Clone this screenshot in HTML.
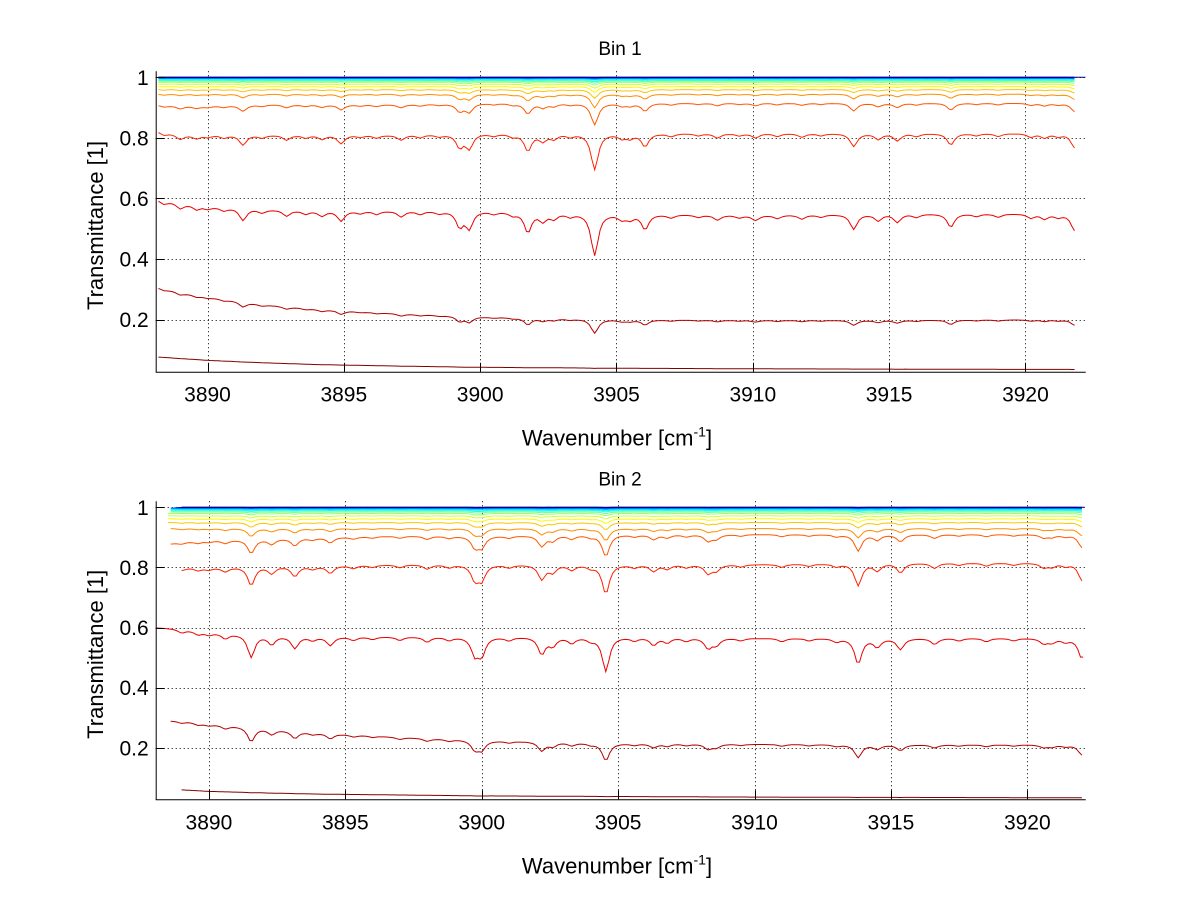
<!DOCTYPE html>
<html><head><meta charset="utf-8">
<style>
html,body{margin:0;padding:0;background:#fff;}
svg{display:block;font-family:"Liberation Sans",Arial,sans-serif;}
</style></head>
<body>
<svg id="chart" width="1200" height="901" viewBox="0 0 1200 901" xmlns="http://www.w3.org/2000/svg">
<rect x="0" y="0" width="1200" height="901" fill="#fff"/>
</svg>
<script>
// ---------- data ----------
const xTicks = [3890, 3895, 3900, 3905, 3910, 3915, 3920];
const yTicks = [0.2, 0.4, 0.6, 0.8, 1];
const yTickLabels = ["0.2", "0.4", "0.6", "0.8", "1"];
const panelTitles = ["Bin 1", "Bin 2"];
const knots = [3888, 3889, 3890, 3892, 3894, 3897, 3900, 3905, 3910, 3915, 3920, 3922.5];

// absorption dips: [wavenumber, fractional depth]
const dips1 = [[3888.4,.02],[3889.0,.03],[3889.6,.025],[3890.0,.015],[3890.6,.02],[3891.3,.07],[3892.0,.02],[3892.9,.035],[3893.6,.02],[3894.2,.03],[3894.9,.06],[3895.6,.015],[3896.2,.02],[3897.1,.035],[3897.8,.02],[3898.5,.015],[3899.25,.09],[3899.6,.1],[3900.5,.015],[3901.2,.02],[3901.75,.12],[3902.3,.05],[3902.7,.035],[3903.3,.02],[3904.2,.25],[3905.2,.03],[3905.5,.03],[3906.05,.09],[3907.0,.02],[3908.0,.015],[3908.7,.03],[3909.5,.015],[3910.1,.03],[3910.9,.02],[3911.8,.025],[3912.5,.015],[3913.7,.09],[3914.6,.04],[3915.3,.05],[3916.0,.02],[3917.26,.08],[3918.2,.015],[3919.0,.02],[3920.2,.025],[3920.7,.03],[3921.2,.02],[3921.8,.1]];
const dips2 = [[3889.0,.02],[3889.6,.02],[3890.0,.015],[3890.6,.03],[3891.55,.13],[3892.3,.05],[3893.15,.07],[3893.8,.02],[3894.45,.05],[3895.3,.02],[3896.0,.015],[3897.0,.02],[3898.0,.03],[3898.8,.02],[3899.75,.1],[3900.0,.1],[3901.0,.02],[3902.2,.1],[3902.6,.05],[3903.3,.035],[3904.0,.02],[3904.55,.2],[3905.6,.02],[3906.3,.045],[3906.8,.03],[3907.5,.02],[3908.3,.06],[3908.6,.04],[3909.5,.015],[3911.0,.02],[3912.0,.015],[3913.0,.02],[3913.8,.15],[3914.5,.05],[3915.35,.065],[3916.6,.035],[3917.5,.015],[3918.5,.02],[3919.5,.015],[3920.6,.03],[3920.9,.025],[3921.4,.02],[3922.0,.12]];

// baselines of the five lowest series at the knots
const base1 = [
 [0.078,0.072,0.066,0.058,0.052,0.047,0.043,0.040,0.038,0.037,0.036,0.036],
 [0.31,0.29,0.275,0.25,0.235,0.22,0.21,0.20,0.198,0.198,0.2,0.2],
 [0.60,0.585,0.575,0.565,0.56,0.56,0.56,0.55,0.545,0.55,0.55,0.55],
 [0.825,0.81,0.81,0.81,0.81,0.81,0.815,0.815,0.815,0.815,0.815,0.815],
 [0.91,0.905,0.905,0.91,0.91,0.91,0.915,0.915,0.915,0.915,0.915,0.915]];
const base2 = [
 [0.062,0.06,0.055,0.05,0.046,0.043,0.04,0.038,0.036,0.035,0.034,0.034],
 [0.29,0.29,0.28,0.265,0.25,0.235,0.225,0.215,0.212,0.21,0.21,0.21],
 [0.60,0.595,0.585,0.575,0.57,0.57,0.57,0.57,0.565,0.565,0.565,0.565],
 [0.80,0.80,0.80,0.805,0.805,0.81,0.81,0.81,0.81,0.815,0.815,0.815],
 [0.87,0.885,0.89,0.895,0.9,0.905,0.905,0.91,0.91,0.91,0.91,0.91]];
// flat levels of the upper series
const levels1 = [0.945,0.96,0.97,0.978,0.984,0.988,0.991,0.994,0.996,0.997,0.998,0.999,0.9995,1.0,1.0];
const levels2 = [0.93,0.95,0.962,0.972,0.98,0.985,0.989,0.992,0.995,0.997,0.998,0.999,0.9995,1.0,1.0];
// dip strength per series (all 20)
const depthScale1 = [0.1,0.9,1.0,0.58,0.31,0.19,0.12,0.08,0.055,0.04,0.03,0.022,0.016,0.012,0.008,0.006,0.004,0.003,0.002,0.001];
const depthScale2 = [0.1,1.35,1.0,0.6,0.4,0.22,0.13,0.08,0.055,0.04,0.03,0.022,0.016,0.012,0.008,0.006,0.004,0.003,0.002,0.001];
// x extent of each series
const start1 = [3888.2,3888.2,3888.2,3888.2,3888.2,3888.2,3888.2,3888.2,3888.2,3888.2,3888.2,3888.2,3888.2,3888.2,3888.2,3888.2,3888.2,3888.2,3888.2,3888.2];
const end1 = [3921.85,3921.85,3921.85,3921.85,3921.85,3921.85,3921.85,3921.85,3921.85,3921.85,3921.85,3921.85,3921.85,3921.85,3921.85,3921.85,3921.85,3921.85,3921.85,3922.2];
const start2 = [3889.0,3888.6,3888.05,3889.0,3888.6,3888.6,3888.5,3888.5,3888.5,3888.5,3888.6,3888.6,3888.6,3888.6,3888.6,3888.7,3888.8,3888.9,3889.0,3889.0];
const end2 = [3922.0,3922.0,3922.1,3922.0,3922.0,3922.0,3922.0,3922.0,3922.0,3922.0,3922.0,3922.0,3922.0,3922.0,3922.0,3922.0,3922.0,3922.0,3922.0,3922.1];

// ---------- layout ----------
const NS = "http://www.w3.org/2000/svg";
const svg = document.getElementById('chart');
const panels = [
 {left:155.7,right:1085.7,top:71.2,bottom:371.7,x0:3888.10,x1:3922.21,y0:0.0284,y1:1.02,dips:dips1,base:base1,levels:levels1,scale:depthScale1,start:start1,end:end1},
 {left:155.7,right:1085.7,top:501.3,bottom:799.3,x0:3888.05,x1:3922.14,y0:0.0286,y1:1.02,dips:dips2,base:base2,levels:levels2,scale:depthScale2,start:start2,end:end2}
];
function mk(tag, attrs, parent){const e=document.createElementNS(NS,tag);for(const k in attrs)e.setAttribute(k,attrs[k]);(parent||svg).appendChild(e);return e;}
function jet(t){const c=v=>Math.max(0,Math.min(1,v));const r=c(1.5-Math.abs(4*t-3)),g=c(1.5-Math.abs(4*t-2)),b=c(1.5-Math.abs(4*t-1));return `rgb(${Math.round(r*255)},${Math.round(g*255)},${Math.round(b*255)})`;}
function interp(xs, ys, x){if(x<=xs[0])return ys[0];for(let i=1;i<xs.length;i++){if(x<=xs[i]){const f=(x-xs[i-1])/(xs[i]-xs[i-1]);return ys[i-1]+f*(ys[i]-ys[i-1]);}}return ys[ys.length-1];}
function profile(dips, x){let a=0;for(const d of dips){const u=(x-d[0])/0.2;a+=d[1]/(1+u*u*1.6);}return Math.min(a,0.9);}

panels.forEach((p, pi) => {
  const sx = v => p.left + (v-p.x0)/(p.x1-p.x0)*(p.right-p.left);
  const sy = v => p.bottom - (v-p.y0)/(p.y1-p.y0)*(p.bottom-p.top);
  const g = mk('g', {});
  
  
  const cp = mk('clipPath', {id:'clip'+pi}, g);
  mk('rect', {x:p.left, y:p.top, width:p.right-p.left, height:p.bottom-p.top}, cp);
  const grid = mk('g', {stroke:'#000','stroke-width':1,'stroke-dasharray':'1,3'}, g);
  
  
  xTicks.forEach(t => { const X=Math.round(sx(t))+0.5; mk('line',{x1:X,x2:X,y1:p.top,y2:p.bottom},grid); });
  yTicks.forEach(t => { const Y=Math.round(sy(t))+0.5; mk('line',{x1:p.left,x2:p.right,y1:Y,y2:Y},grid); });
  const sg = mk('g', {'clip-path':`url(#clip${pi})`, fill:'none','stroke-width':1}, g);
  
  
  const N = p.scale.length;
  for (let i=0;i<N;i++){
    let pts=[];
    for (let x=p.start[i]; x<=p.end[i]+1e-6; x+=0.1){
      const b = i < p.base.length ? interp(knots, p.base[i], x) : p.levels[i-p.base.length];
      const v = b*(1 - p.scale[i]*profile(p.dips, x));
      pts.push(sx(x).toFixed(1)+','+sy(v).toFixed(1));
    }
    const line = mk('polyline', {points:pts.join(' '), stroke:jet(1 - i/(N-1))}, sg);
    
    
  }
  const ax = mk('g', {stroke:'#000','stroke-width':1}, g);
  
  
  mk('line',{x1:p.left+0.5,x2:p.left+0.5,y1:p.top,y2:p.bottom+0.5},ax);
  mk('line',{x1:p.left,x2:p.right,y1:p.bottom+0.5,y2:p.bottom+0.5},ax);
  xTicks.forEach(t => { const X=Math.round(sx(t))+0.5; mk('line',{x1:X,x2:X,y1:p.bottom,y2:p.bottom-9},ax); });
  yTicks.forEach(t => { const Y=Math.round(sy(t))+0.5; mk('line',{x1:p.left,x2:p.left+9,y1:Y,y2:Y},ax); });
  xTicks.forEach(t => {
    const tx = mk('text',{x:sx(t),y:p.bottom+30,'text-anchor':'middle','font-size':21,fill:'#000'},g);
    tx.textContent = String(t);
    
    
  });
  yTicks.forEach((t,k) => {
    const tx = mk('text',{x:p.left-7,y:sy(t)+7.5,'text-anchor':'end','font-size':21,fill:'#000'},g);
    tx.textContent = yTickLabels[k];
    
    
  });
  const ti = mk('text',{x:620,y:p.top-16,'text-anchor':'middle','font-size':19,fill:'#000'},g);
  ti.textContent = panelTitles[pi];
  
  
  const xl = mk('text',{x:617,y:p.bottom+74,'text-anchor':'middle','font-size':22,fill:'#000'},g);
  
  
  xl.appendChild(document.createTextNode('Wavenumber [cm'));
  const sup = mk('tspan',{dy:-9,'font-size':14},xl); sup.textContent='-1';
  const cl = mk('tspan',{dy:9},xl); cl.textContent=']';
  const cy = (p.top+p.bottom)/2 + 4;
  const yl = mk('text',{x:0,y:0,'text-anchor':'middle','font-size':22,fill:'#000',transform:`translate(103,${cy}) rotate(-90)`},g);
  yl.textContent = 'Transmittance [1]';
  
  
});
</script>
</body></html>
